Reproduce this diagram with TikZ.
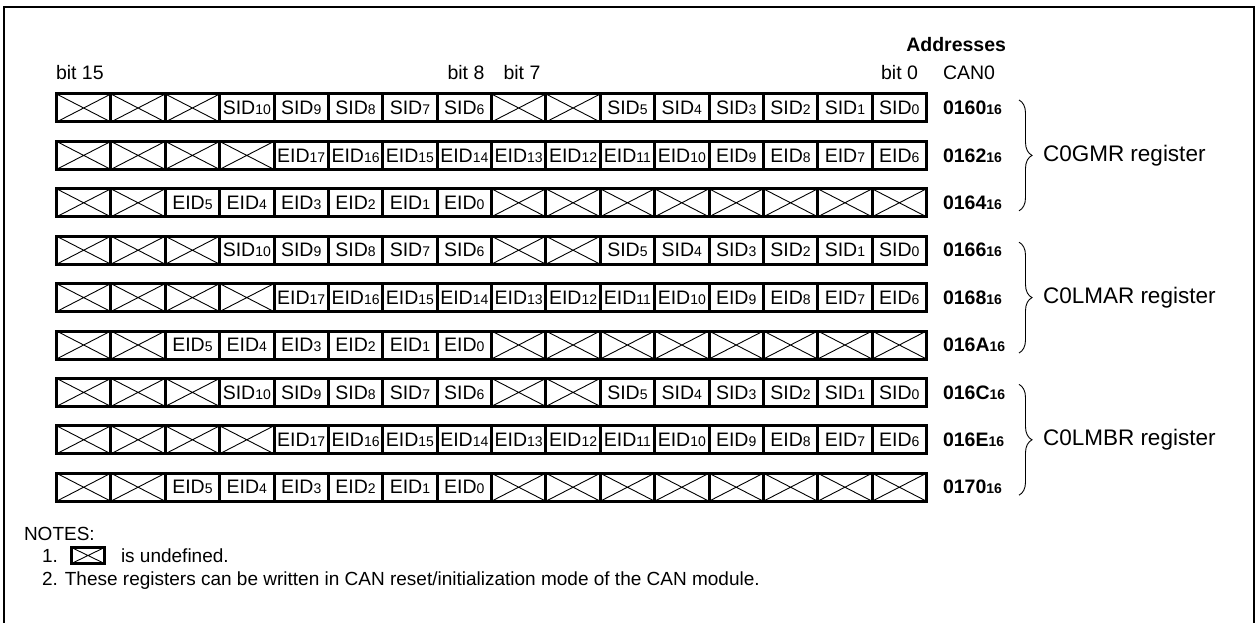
\documentclass[tikz,border=0pt]{standalone}
\usepackage{fontspec}
\setmainfont{Liberation Sans}
\usetikzlibrary{decorations.pathreplacing}
\newcommand\subd[1]{{\fontsize{14}{15}\selectfont #1}}
\def\undefmark{X}
\newcommand\regrow[3]{%
  \foreach \txt [count=\c from 0] in {#3} {%
    \ifx\txt\undefmark
      \node[undefbox] (cell#1-\c) at ({56.5+54.375*(\c+0.5)}, #2) {};
    \else
      \node[cellbox] (cell#1-\c) at ({56.5+54.375*(\c+0.5)}, #2) {\txt};
    \fi
  }}
\begin{document}
\begin{tikzpicture}[x=1pt,y=-1pt,
  font=\fontsize{19.5}{23}\selectfont,
  cellbox/.style={draw, line width=3pt, minimum width=54.375pt, minimum height=28pt, inner sep=0pt, outer sep=0pt},
  undefbox/.style={cellbox, path picture={\draw[line width=0.9pt]
      (path picture bounding box.north west) -- (path picture bounding box.south east)
      (path picture bounding box.south west) -- (path picture bounding box.north east);}},
  txt/.style={inner sep=0pt, outer sep=0pt},
  addr/.style={txt, anchor=west, font=\bfseries\fontsize{19.5}{23}\selectfont},
  lbl/.style={txt, anchor=west, font=\fontsize{22.5}{26}\selectfont},
  note/.style={txt, anchor=base west, font=\fontsize{19}{22}\selectfont},
  bracepath/.style={decorate, decoration={brace, amplitude=13pt}, line width=0.9pt}]
\useasboundingbox (0,0) rectangle (1256,623);
\begin{scope}
  \clip (0,0) rectangle (1256,623);
  \draw[line width=2.4pt] (4,7) rectangle (1254,680);
\end{scope}

% header
\node[txt, anchor=base east, font=\bfseries\fontsize{19.5}{23}\selectfont] (addrhead) at (1006,52) {Addresses};
\node[txt, anchor=base west] (bit15) at (56,79.5) {bit 15};
\node[txt, anchor=base] (bit8) at (466,79.5) {bit 8};
\node[txt, anchor=base] (bit7) at (522,79.5) {bit 7};
\node[txt, anchor=base east] (bit0) at (918,79.5) {bit 0};
\node[txt, anchor=base west] (can0) at (943,80) {CAN0};

% rows
\def\rowA{X,X,X,SID\subd{10},SID\subd{9},SID\subd{8},SID\subd{7},SID\subd{6},X,X,SID\subd{5},SID\subd{4},SID\subd{3},SID\subd{2},SID\subd{1},SID\subd{0}}
\def\rowB{X,X,X,X,EID\subd{17},EID\subd{16},EID\subd{15},EID\subd{14},EID\subd{13},EID\subd{12},EID\subd{11},EID\subd{10},EID\subd{9},EID\subd{8},EID\subd{7},EID\subd{6}}
\def\rowC{X,X,EID\subd{5},EID\subd{4},EID\subd{3},EID\subd{2},EID\subd{1},EID\subd{0},X,X,X,X,X,X,X,X}

\foreach \r/\a in {0/0160,1/0162,2/0164,3/0166,4/0168,5/016A,6/016C,7/016E,8/0170} {
  \pgfmathsetmacro\yy{108+47.4*\r}
  \pgfmathtruncatemacro\kind{mod(\r,3)}
  \ifcase\kind
    \expandafter\regrow\expandafter{\expandafter\r\expandafter}\expandafter{\expandafter\yy\expandafter}\expandafter{\rowA}
  \or
    \expandafter\regrow\expandafter{\expandafter\r\expandafter}\expandafter{\expandafter\yy\expandafter}\expandafter{\rowB}
  \or
    \expandafter\regrow\expandafter{\expandafter\r\expandafter}\expandafter{\expandafter\yy\expandafter}\expandafter{\rowC}
  \fi
  \node[addr] (addr\r) at (943,\yy) {\a\subd{16}};
}

% braces and register labels
\foreach \g/\name in {0/C0GMR,1/C0LMAR,2/C0LMBR} {
  \pgfmathsetmacro\ytop{108+47.4*(3*\g)-8}
  \pgfmathsetmacro\ymid{108+47.4*(3*\g+1)}
  \pgfmathsetmacro\ybot{108+47.4*(3*\g+2)+8}
  \coordinate (brtop\g) at (1019,\ytop);
  \coordinate (brbot\g) at (1019,\ybot);
  \draw[bracepath] (brtop\g) -- (brbot\g);
  \node[lbl] (reg\g) at (1043,\ymid) {\name\ register};
}

% notes
\node[note] (notes) at (24,540) {NOTES:};
\node[note] (n1) at (42,562) {1.};
\node[undefbox, minimum width=33pt, minimum height=16pt, line width=2.5pt] (icon) at (88,555.5) {};
\node[note] (n1t) at (121,562) {is undefined.};
\node[note] (n2) at (42,585) {2. These registers can be written in CAN reset/initialization mode of the CAN module.};
\end{tikzpicture}
\end{document}
